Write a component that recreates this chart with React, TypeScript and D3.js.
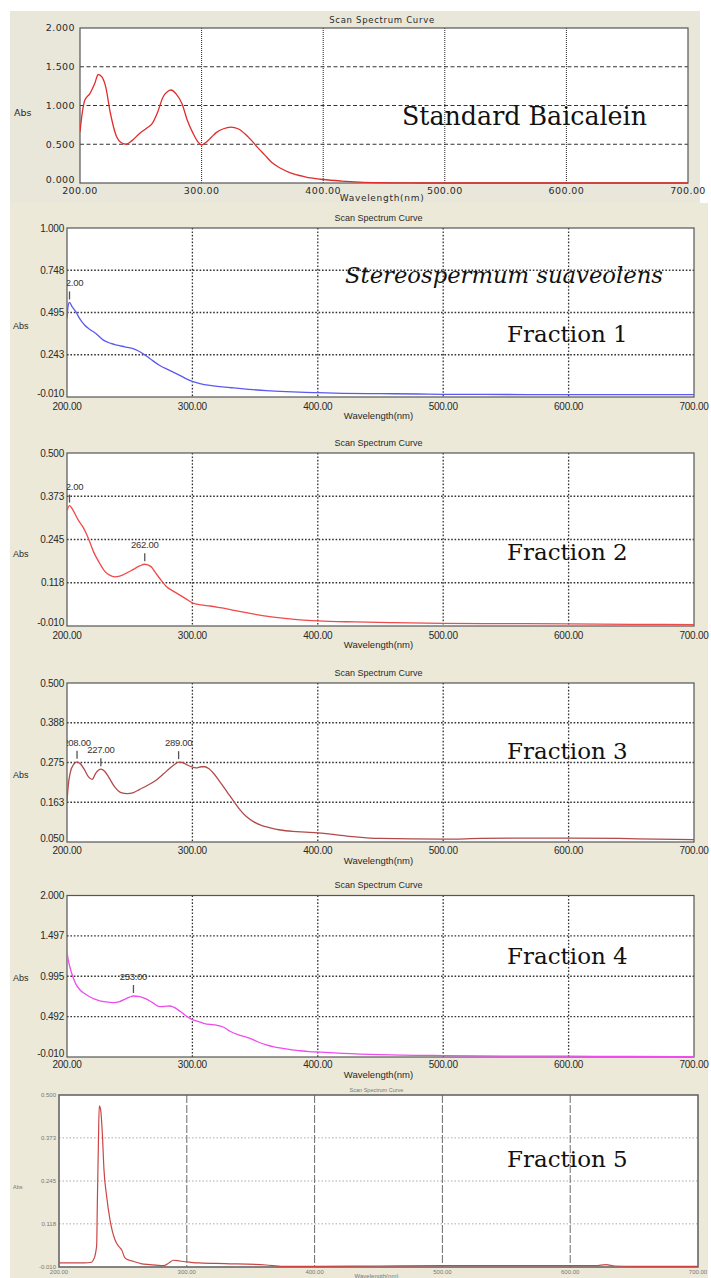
import React from "react";
import * as d3 from "d3";

// ---------- DATA ----------
const xTickValues = [200, 300, 400, 500, 600, 700];
const xTickLabels = ["200.00", "300.00", "400.00", "500.00", "600.00", "700.00"];

const baicaleinWl = [200, 202, 204, 208, 212, 215, 218, 221, 225, 230, 234, 238, 243, 249, 255, 259, 264, 268, 272, 275, 279, 284, 288, 293, 297, 300, 304, 308, 312, 318, 324, 330, 336, 341, 346, 352, 358, 365, 373, 385, 400, 415, 430, 445, 460, 480, 500, 550, 600, 650, 700];
const baicaleinAbs = [0.66, 0.92, 1.07, 1.15, 1.28, 1.4, 1.37, 1.25, 0.9, 0.6, 0.52, 0.5, 0.55, 0.64, 0.71, 0.76, 0.92, 1.1, 1.18, 1.2, 1.15, 1.02, 0.82, 0.64, 0.53, 0.49, 0.53, 0.59, 0.65, 0.7, 0.72, 0.7, 0.63, 0.55, 0.46, 0.36, 0.26, 0.19, 0.13, 0.08, 0.045, 0.025, 0.012, 0.005, 0.002, 0, 0, 0, 0, 0, 0];
const baicaleinYTicks = [0, 0.5, 1.0, 1.5, 2.0];
const baicaleinYLabels = ["0.000", "0.500", "1.000", "1.500", "2.000"];
const baicaleinPeaks: number[] = [];

const fraction1Wl = [200, 201, 202, 204, 207, 210, 214, 218, 223, 229, 235, 240, 246, 252, 257, 261, 266, 274, 281, 288, 294, 300, 306, 314, 322, 333, 345, 359, 375, 390, 400, 420, 450, 480, 500, 550, 600, 650, 700];
const fraction1Abs = [0.46, 0.54, 0.555, 0.53, 0.5, 0.46, 0.42, 0.395, 0.37, 0.33, 0.31, 0.3, 0.29, 0.28, 0.265, 0.247, 0.22, 0.178, 0.152, 0.127, 0.103, 0.083, 0.07, 0.059, 0.052, 0.044, 0.036, 0.028, 0.022, 0.018, 0.016, 0.012, 0.01, 0.008, 0.006, 0.005, 0.004, 0.004, 0.004];
const fraction1YTicks = [-0.01, 0.2425, 0.495, 0.7475, 1.0];
const fraction1YLabels = ["-0.010", "0.243", "0.495", "0.748", "1.000"];
const fraction1Peaks = [202];

const fraction2Wl = [200, 202, 205, 209, 213, 217, 221, 226, 230, 234, 238, 242, 247, 253, 258, 262, 267, 270, 274, 279, 285, 290, 295, 300, 307, 314, 322, 332, 345, 359, 372, 386, 400, 430, 460, 500, 550, 600, 650, 700];
const fraction2Abs = [0.33, 0.345, 0.33, 0.302, 0.28, 0.249, 0.21, 0.175, 0.152, 0.14, 0.135, 0.137, 0.145, 0.157, 0.167, 0.172, 0.165, 0.15, 0.13, 0.107, 0.092, 0.081, 0.07, 0.058, 0.052, 0.049, 0.044, 0.037, 0.028, 0.019, 0.013, 0.008, 0.005, 0.002, 0.0, -0.002, -0.003, -0.004, -0.005, -0.006];
const fraction2YTicks = [-0.01, 0.1175, 0.245, 0.3725, 0.5];
const fraction2YLabels = ["-0.010", "0.118", "0.245", "0.373", "0.500"];
const fraction2Peaks = [202, 262];

const fraction3Wl = [200, 201, 202.5, 205, 208, 211, 214, 217, 220, 223, 227, 230, 233, 238, 243, 248, 253, 258, 264, 271, 277, 282, 286, 289, 292, 296, 300, 303, 307, 310, 313, 317, 322, 328, 333, 338, 343, 349, 355, 362, 370, 380, 390, 400, 410, 425, 450, 500, 530, 560, 600, 640, 670, 700];
const fraction3Abs = [0.165, 0.21, 0.245, 0.268, 0.277, 0.27, 0.254, 0.235, 0.227, 0.245, 0.256, 0.25, 0.235, 0.206, 0.19, 0.187, 0.19, 0.199, 0.21, 0.225, 0.243, 0.259, 0.27, 0.276, 0.275, 0.268, 0.262, 0.26, 0.263, 0.263, 0.258, 0.244, 0.22, 0.19, 0.165, 0.141, 0.122, 0.107, 0.097, 0.09, 0.084, 0.08, 0.078, 0.076, 0.072, 0.066, 0.06, 0.058, 0.06, 0.061, 0.061, 0.06, 0.058, 0.057];
const fraction3YTicks = [0.05, 0.1625, 0.275, 0.3875, 0.5];
const fraction3YLabels = ["0.050", "0.163", "0.275", "0.388", "0.500"];
const fraction3Peaks = [208, 227, 289];

const fraction4Wl = [200, 201, 203.8, 207, 210.4, 214, 218, 222, 226, 231, 237, 242, 246, 250, 253, 258, 262, 268, 274, 278, 282, 285, 288, 291, 294, 298, 301, 305, 309, 314, 319, 325, 330, 338, 346, 352, 359, 365, 372, 379, 386, 393, 400, 420, 450, 500, 550, 600, 650, 700];
const fraction4Abs = [1.3, 1.2, 1.03, 0.9, 0.824, 0.78, 0.74, 0.71, 0.69, 0.675, 0.666, 0.68, 0.708, 0.735, 0.749, 0.74, 0.72, 0.67, 0.616, 0.62, 0.625, 0.61, 0.583, 0.55, 0.513, 0.47, 0.45, 0.43, 0.41, 0.395, 0.388, 0.36, 0.31, 0.26, 0.223, 0.18, 0.14, 0.115, 0.098, 0.08, 0.068, 0.058, 0.052, 0.036, 0.02, 0.008, 0.002, 0.0, -0.003, -0.005];
const fraction4YTicks = [-0.01, 0.4925, 0.995, 1.4975, 2.0];
const fraction4YLabels = ["-0.010", "0.492", "0.995", "1.497", "2.000"];
const fraction4Peaks = [253];

const fraction5Wl = [200, 210, 220, 225.6, 227, 228, 229, 229.5, 230, 230.8, 231.5, 232.6, 233.9, 235.2, 237.3, 239.9, 243.8, 247, 249, 251.6, 255, 258, 264, 271, 281.6, 286, 289.5, 293, 296, 303, 310, 330, 362, 375, 401.6, 450, 500, 550, 600, 620, 628, 635, 650, 700];
const fraction5Abs = [0.002, 0.002, 0.002, 0.004, 0.012, 0.021, 0.04, 0.056, 0.18, 0.35, 0.468, 0.456, 0.387, 0.278, 0.199, 0.13, 0.071, 0.05, 0.041, 0.017, 0.01, 0.007, 0.0, -0.003, -0.006, 0.002, 0.01, 0.009, 0.007, 0.004, 0.002, 0.0, -0.004, -0.008, -0.008, -0.007, -0.006, -0.006, -0.006, -0.006, -0.003, -0.007, -0.008, -0.008];
const fraction5YTicks = [-0.01, 0.118, 0.245, 0.373, 0.5];
const fraction5YLabels = ["-0.010", "0.118", "0.245", "0.373", "0.500"];
const fraction5Peaks: number[] = [];

// ---------- LAYOUT ----------
type Style = {
  tickFont: number; tickFamily: string; tickSpacing: number; textColor: string;
  hDash: string; hColor: string; hWidth: number;
  vDash: string; vColor: string; vWidth: number;
  frame: string; frameWidth: number;
  titleFont: number; titleSpacing: number; absFont: number; bottomLabelShift: number;
};
const styleA: Style = { tickFont: 9.5, tickFamily: "'DejaVu Sans', sans-serif", tickSpacing: 0.4, textColor: "#2a2a2a", hDash: "4,2.5", hColor: "#333", hWidth: 1, vDash: "1,1", vColor: "#222", vWidth: 1, frame: "#555", frameWidth: 1.2, titleFont: 8.5, titleSpacing: 0.7, absFont: 9.5, bottomLabelShift: -3 };
const styleB: Style = { tickFont: 10, tickFamily: "'Liberation Sans', Arial, sans-serif", tickSpacing: -0.25, textColor: "#2a2a2a", hDash: "1.6,1.8", hColor: "#333", hWidth: 1.3, vDash: "1.6,1.8", vColor: "#333", vWidth: 1.3, frame: "#555", frameWidth: 1.2, titleFont: 9, titleSpacing: 0, absFont: 9, bottomLabelShift: -4 };
const styleC: Style = { tickFont: 6, tickFamily: "'Liberation Sans', Arial, sans-serif", tickSpacing: 0, textColor: "#777", hDash: "1.5,2", hColor: "#aaa", hWidth: 1, vDash: "8,2", vColor: "#6a6a6a", vWidth: 1, frame: "#666", frameWidth: 1.6, titleFont: 5.5, titleSpacing: 0, absFont: 5.5, bottomLabelShift: 0 };

type PanelDef = {
  id: string; left: number; top: number; right: number; bottom: number;
  yDomain: [number, number]; yTicks: number[]; yLabels: string[];
  wl: number[]; abs: number[]; peaks: number[]; color: string; lineWidth: number;
  titleY: number; xLabY: number; wlLabY: number; absX: number; absY: number;
  yLabX: number; style: Style;
};

const panels: PanelDef[] = [
  { id: "p0", left: 80, top: 28, right: 688, bottom: 183, yDomain: [0, 2], yTicks: baicaleinYTicks, yLabels: baicaleinYLabels, wl: baicaleinWl, abs: baicaleinAbs, peaks: baicaleinPeaks, color: "#e22b2b", lineWidth: 1.3, titleY: 23, xLabY: 194, wlLabY: 201, absX: 14, absY: 116, yLabX: 75, style: styleA },
  { id: "p1", left: 67, top: 228, right: 694, bottom: 397, yDomain: [-0.01, 1.0], yTicks: fraction1YTicks, yLabels: fraction1YLabels, wl: fraction1Wl, abs: fraction1Abs, peaks: fraction1Peaks, color: "#5a5af0", lineWidth: 1.3, titleY: 221, xLabY: 410, wlLabY: 419, absX: 13, absY: 329, yLabX: 64, style: styleB },
  { id: "p2", left: 67, top: 453, right: 694, bottom: 626, yDomain: [-0.01, 0.5], yTicks: fraction2YTicks, yLabels: fraction2YLabels, wl: fraction2Wl, abs: fraction2Abs, peaks: fraction2Peaks, color: "#f04a4a", lineWidth: 1.3, titleY: 446, xLabY: 639, wlLabY: 648, absX: 13, absY: 557, yLabX: 64, style: styleB },
  { id: "p3", left: 67, top: 683, right: 694, bottom: 842, yDomain: [0.05, 0.5], yTicks: fraction3YTicks, yLabels: fraction3YLabels, wl: fraction3Wl, abs: fraction3Abs, peaks: fraction3Peaks, color: "#b24a4a", lineWidth: 1.3, titleY: 676, xLabY: 854, wlLabY: 864, absX: 13, absY: 778, yLabX: 64, style: styleB },
  { id: "p4", left: 67, top: 895.5, right: 694, bottom: 1057, yDomain: [-0.01, 2.0], yTicks: fraction4YTicks, yLabels: fraction4YLabels, wl: fraction4Wl, abs: fraction4Abs, peaks: fraction4Peaks, color: "#ee4cee", lineWidth: 1.3, titleY: 888, xLabY: 1068, wlLabY: 1078, absX: 13, absY: 981, yLabX: 64, style: styleB },
  { id: "p5", left: 59, top: 1095, right: 698, bottom: 1267, yDomain: [-0.01, 0.5], yTicks: fraction5YTicks, yLabels: fraction5YLabels, wl: fraction5Wl, abs: fraction5Abs, peaks: fraction5Peaks, color: "#cc4545", lineWidth: 1.2, titleY: 1092, xLabY: 1274, wlLabY: 1277.5, absX: 13, absY: 1189, yLabX: 56, style: styleC },
];

const bigLabels = [
  { text: "Standard Baicalein", x: 402, y: 125, italic: false, size: 25.3 },
  { text: "Stereospermum suaveolens", x: 345, y: 283, italic: true, size: 22.7 },
  { text: "Fraction 1", x: 507, y: 342, italic: false, size: 23 },
  { text: "Fraction 2", x: 507, y: 560, italic: false, size: 23 },
  { text: "Fraction 3", x: 507, y: 759, italic: false, size: 23 },
  { text: "Fraction 4", x: 507, y: 964, italic: false, size: 23 },
  { text: "Fraction 5", x: 507, y: 1167, italic: false, size: 23 },
];

function Panel({ p }: { p: PanelDef }) {
  const s = p.style;
  const x = d3.scaleLinear().domain([200, 700]).range([p.left, p.right]);
  const y = d3.scaleLinear().domain(p.yDomain).range([p.bottom, p.top]);
  const pts = p.wl.map((w, i) => [w, p.abs[i]] as [number, number]);
  const line = d3.line<[number, number]>().x(d => x(d[0])).y(d => y(d[1])).curve(d3.curveMonotoneX);
  const cx = (p.left + p.right) / 2 - 2;
  return (
    <g>
      <defs>
        <clipPath id={`clip-${p.id}`}>
          <rect x={p.left} y={p.top} width={p.right - p.left} height={p.bottom - p.top + 1} />
        </clipPath>
      </defs>
      <rect x={p.left} y={p.top} width={p.right - p.left} height={p.bottom - p.top} fill="#fff" />
      {p.yTicks.slice(1, -1).map((t, i) => (
        <line key={`h${i}`} x1={p.left} x2={p.right} y1={y(t)} y2={y(t)} stroke={s.hColor} strokeWidth={s.hWidth} strokeDasharray={s.hDash} />
      ))}
      {xTickValues.slice(1, -1).map((t, i) => (
        <line key={`v${i}`} x1={x(t)} x2={x(t)} y1={p.top} y2={p.bottom} stroke={s.vColor} strokeWidth={s.vWidth} strokeDasharray={s.vDash} />
      ))}
      <rect x={p.left} y={p.top} width={p.right - p.left} height={p.bottom - p.top} fill="none" stroke={s.frame} strokeWidth={s.frameWidth} />
      <g clipPath={`url(#clip-${p.id})`}>
        <path d={line(pts) || ""} fill="none" stroke={p.color} strokeWidth={p.lineWidth} strokeLinejoin="round" />
        {p.peaks.map((pk, i) => {
          const idx = p.wl.indexOf(pk);
          const py = y(p.abs[idx]);
          const px = x(pk);
          return (
            <g key={`pk${i}`}>
              <line x1={px} x2={px} y1={py - 11} y2={py - 3} stroke="#555" strokeWidth={1.3} />
              <text x={px} y={py - 16} textAnchor="middle" fontSize={9.5} fontFamily={s.tickFamily} letterSpacing={-0.3} fill="#333">{pk.toFixed(2)}</text>
            </g>
          );
        })}
      </g>
      {p.yTicks.map((t, i) => (
        <text key={`yl${i}`} x={p.yLabX} y={y(t) + s.tickFont * 0.35 + (i === 0 ? s.bottomLabelShift : 0)} textAnchor="end" fontSize={s.tickFont} fontFamily={s.tickFamily} letterSpacing={s.tickSpacing} fill={s.textColor}>{p.yLabels[i]}</text>
      ))}
      {xTickValues.map((t, i) => (
        <text key={`xl${i}`} x={x(t)} y={p.xLabY} textAnchor="middle" fontSize={s.tickFont} fontFamily={s.tickFamily} letterSpacing={s.tickSpacing} fill={s.textColor}>{xTickLabels[i]}</text>
      ))}
      <text x={cx} y={p.wlLabY} textAnchor="middle" fontSize={s.titleFont + 0.5} fontFamily={s.tickFamily} letterSpacing={s.titleSpacing} fill={s.textColor}>Wavelength(nm)</text>
      <text x={cx} y={p.titleY} textAnchor="middle" fontSize={s.titleFont} fontFamily={s.tickFamily} letterSpacing={s.titleSpacing} fill={s.textColor}>Scan Spectrum Curve</text>
      <text x={p.absX} y={p.absY} fontSize={s.absFont} fontFamily={s.tickFamily} fill={s.textColor}>Abs</text>
    </g>
  );
}

export default function App() {
  return (
    <svg width={711} height={1278} style={{ position: "absolute", left: 0, top: 0 }} xmlns="http://www.w3.org/2000/svg">
      <rect x={0} y={0} width={711} height={1278} fill="#fff" />
      <rect x={10} y={11} width={690} height={192} fill="#e9e7da" />
      <rect x={10} y={203} width={698} height={1075} fill="#ece9d9" />
      {panels.map(p => <Panel key={p.id} p={p} />)}
      {bigLabels.map((b, i) => (
        <text key={i} x={b.x} y={b.y} fontSize={b.size} fontFamily="'DejaVu Serif', serif" fontStyle={b.italic ? "italic" : "normal"} fill="#111">{b.text}</text>
      ))}
    </svg>
  );
}
